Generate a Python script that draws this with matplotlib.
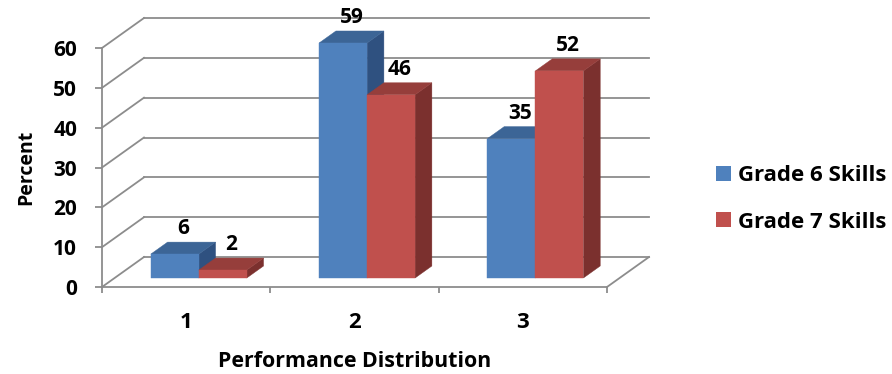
import numpy as np
import matplotlib.pyplot as plt
from matplotlib.patches import Polygon, Patch

plt.rcParams['font.family'] = ['Open Sans', 'DejaVu Sans']
plt.rcParams['font.weight'] = 'bold'

# data
categories = ['1', '2', '3']
series_names = ['Grade 6 Skills', 'Grade 7 Skills']
grade6 = [6, 59, 35]
grade7 = [2, 46, 52]
y_ticks = [0, 10, 20, 30, 40, 50, 60]

# style
grid_col = '#8c8c8c'
face_cols = [('#4f81bd', '#3c6596', '#2f5180'),   # front, top, side
             ('#c0504d', '#963e3b', '#7b302e')]

fig = plt.figure(figsize=(8.92, 3.74), dpi=100)
ax = fig.add_axes([102/892, 87/374, 505/892, 239/374])
ax.set_xlim(0.5, 3.5)
ax.set_ylim(0, 60)
ax.patch.set_visible(False)

# oblique depth (full depth of the box) in data units
DX = 42 / (505 / 3.0)
DY = 30 / (239 / 60.0)
d0, d1 = 0.3, 0.7      # bars sit in the middle of the depth
bw = 0.285


def proj(x, y, d):
    return (x + d * DX, y + d * DY)


# back wall gridlines + side wall diagonals
for v in y_ticks:
    x0, y0 = proj(0.5, v, 1)
    x1, y1 = proj(3.5, v, 1)
    ax.plot([x0, x1], [y0, y1], color=grid_col, lw=1.3, zorder=1, clip_on=False)
    ax.plot([0.5, x0], [v, y0], color=grid_col, lw=1.3, zorder=1, clip_on=False)
xr, yr = proj(3.5, 0, 1)
ax.plot([3.5, xr], [0, yr], color=grid_col, lw=1.3, zorder=1, clip_on=False)


def bar3d(xl, h, cols):
    xr_ = xl + bw
    front = [proj(xl, 0, d0), proj(xr_, 0, d0), proj(xr_, h, d0), proj(xl, h, d0)]
    top = [proj(xl, h, d0), proj(xr_, h, d0), proj(xr_, h, d1), proj(xl, h, d1)]
    side = [proj(xr_, 0, d0), proj(xr_, 0, d1), proj(xr_, h, d1), proj(xr_, h, d0)]
    for pts, c in zip([side, top, front], [cols[2], cols[1], cols[0]]):
        ax.add_patch(Polygon(pts, closed=True, facecolor=c, edgecolor=c,
                             lw=0.3, zorder=3, clip_on=False))


xpos = np.arange(1, len(categories) + 1)
for i, c in enumerate(xpos):
    for j, vals in enumerate([grade6, grade7]):
        xl = c - bw + j * bw
        bar3d(xl, vals[i], face_cols[j])
        lx, ly = proj(xl + bw / 2, vals[i], 0.5)
        ax.annotate(str(vals[i]), (lx, ly), xytext=(0, 14), textcoords='offset points',
                    ha='center', va='center', fontsize=15, fontweight='bold',
                    annotation_clip=False, zorder=5)

# axes lines and ticks
for s in ['top', 'right']:
    ax.spines[s].set_visible(False)
for s in ['left', 'bottom']:
    ax.spines[s].set_color(grid_col)
    ax.spines[s].set_linewidth(1.3)

ax.set_yticks(y_ticks)
ax.tick_params(axis='y', length=5, width=1.3, color=grid_col, pad=13, labelsize=15)
ax.set_xticks([0.5, 1.5, 2.5, 3.5])
ax.set_xticklabels([])
ax.tick_params(axis='x', which='major', length=4, width=1.3, color=grid_col)
ax.set_xticks(xpos, minor=True)
ax.set_xticklabels(categories, minor=True)
ax.tick_params(axis='x', which='minor', length=0, pad=18, labelsize=16)

ax.set_ylabel('Percent', fontsize=14, fontweight='bold', labelpad=12)
ax.set_xlabel('Performance Distribution', fontsize=15.4, fontweight='bold', labelpad=13)

handles = [Patch(facecolor=face_cols[k][0], edgecolor='none') for k in range(2)]
fig.legend(handles, series_names, loc='center left', bbox_to_anchor=(0.803, 0.468),
           frameon=False, handlelength=0.68, handleheight=0.68,
           handletextpad=0.32, labelspacing=1.13, borderpad=0, borderaxespad=0,
           prop={'weight': 'bold', 'size': 16})

fig.savefig('out.png', dpi=100)
